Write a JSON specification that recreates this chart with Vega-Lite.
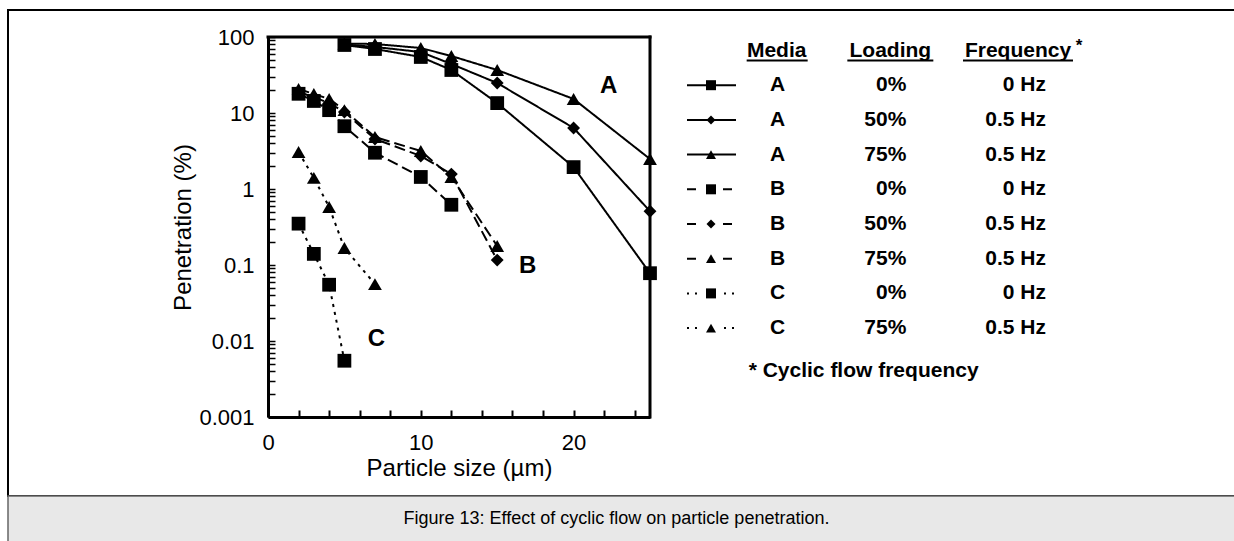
{
  "$schema": "https://vega.github.io/schema/vega-lite/v6.json",
  "padding": {"left": 7, "top": 9, "right": 0, "bottom": 0},
  "background": "white",
  "spacing": 0,
  "bounds": "flush",
  "config": {
    "font": "Liberation Sans",
    "view": {"stroke": null},
    "text": {"color": "black"},
    "axis": {"grid": false}
  },
  "datasets": {
    "pts": [
      {"series": "A-75", "media": "A", "loading": "75%", "particle": 5, "penetration": 82},
      {"series": "A-75", "media": "A", "loading": "75%", "particle": 7, "penetration": 80.9},
      {"series": "A-75", "media": "A", "loading": "75%", "particle": 10, "penetration": 71.7},
      {"series": "A-75", "media": "A", "loading": "75%", "particle": 12, "penetration": 56.2},
      {"series": "A-75", "media": "A", "loading": "75%", "particle": 15, "penetration": 36.8},
      {"series": "A-75", "media": "A", "loading": "75%", "particle": 20, "penetration": 15.3},
      {"series": "A-75", "media": "A", "loading": "75%", "particle": 25, "penetration": 2.48},
      {"series": "A-50", "media": "A", "loading": "50%", "particle": 5, "penetration": 80},
      {"series": "A-50", "media": "A", "loading": "50%", "particle": 7, "penetration": 73.9},
      {"series": "A-50", "media": "A", "loading": "50%", "particle": 10, "penetration": 63.5},
      {"series": "A-50", "media": "A", "loading": "50%", "particle": 12, "penetration": 44.1},
      {"series": "A-50", "media": "A", "loading": "50%", "particle": 15, "penetration": 24.8},
      {"series": "A-50", "media": "A", "loading": "50%", "particle": 20, "penetration": 6.35},
      {"series": "A-50", "media": "A", "loading": "50%", "particle": 25, "penetration": 0.51},
      {"series": "A-0", "media": "A", "loading": "0%", "particle": 5, "penetration": 78.5},
      {"series": "A-0", "media": "A", "loading": "0%", "particle": 7, "penetration": 69.5},
      {"series": "A-0", "media": "A", "loading": "0%", "particle": 10, "penetration": 54.6},
      {"series": "A-0", "media": "A", "loading": "0%", "particle": 12, "penetration": 36.8},
      {"series": "A-0", "media": "A", "loading": "0%", "particle": 15, "penetration": 13.5},
      {"series": "A-0", "media": "A", "loading": "0%", "particle": 20, "penetration": 1.94},
      {"series": "A-0", "media": "A", "loading": "0%", "particle": 25, "penetration": 0.078},
      {"series": "B-75", "media": "B", "loading": "75%", "particle": 2, "penetration": 20.7},
      {"series": "B-75", "media": "B", "loading": "75%", "particle": 3, "penetration": 17.8},
      {"series": "B-75", "media": "B", "loading": "75%", "particle": 4, "penetration": 15.3},
      {"series": "B-75", "media": "B", "loading": "75%", "particle": 5, "penetration": 10.9},
      {"series": "B-75", "media": "B", "loading": "75%", "particle": 7, "penetration": 4.83},
      {"series": "B-75", "media": "B", "loading": "75%", "particle": 10, "penetration": 3.16},
      {"series": "B-75", "media": "B", "loading": "75%", "particle": 12, "penetration": 1.44},
      {"series": "B-75", "media": "B", "loading": "75%", "particle": 15, "penetration": 0.178},
      {"series": "B-50", "media": "B", "loading": "50%", "particle": 2, "penetration": 18.9},
      {"series": "B-50", "media": "B", "loading": "50%", "particle": 3, "penetration": 16.2},
      {"series": "B-50", "media": "B", "loading": "50%", "particle": 4, "penetration": 13.5},
      {"series": "B-50", "media": "B", "loading": "50%", "particle": 5, "penetration": 10.3},
      {"series": "B-50", "media": "B", "loading": "50%", "particle": 7, "penetration": 4.55},
      {"series": "B-50", "media": "B", "loading": "50%", "particle": 10, "penetration": 2.72},
      {"series": "B-50", "media": "B", "loading": "50%", "particle": 12, "penetration": 1.57},
      {"series": "B-50", "media": "B", "loading": "50%", "particle": 15, "penetration": 0.116},
      {"series": "B-0", "media": "B", "loading": "0%", "particle": 2, "penetration": 17.9},
      {"series": "B-0", "media": "B", "loading": "0%", "particle": 3, "penetration": 14.4},
      {"series": "B-0", "media": "B", "loading": "0%", "particle": 4, "penetration": 10.9},
      {"series": "B-0", "media": "B", "loading": "0%", "particle": 5, "penetration": 6.7},
      {"series": "B-0", "media": "B", "loading": "0%", "particle": 7, "penetration": 3.0},
      {"series": "B-0", "media": "B", "loading": "0%", "particle": 10, "penetration": 1.44},
      {"series": "B-0", "media": "B", "loading": "0%", "particle": 12, "penetration": 0.62},
      {"series": "C-0", "media": "C", "loading": "0%", "particle": 2, "penetration": 0.35},
      {"series": "C-0", "media": "C", "loading": "0%", "particle": 3, "penetration": 0.14},
      {"series": "C-0", "media": "C", "loading": "0%", "particle": 4, "penetration": 0.055},
      {"series": "C-0", "media": "C", "loading": "0%", "particle": 5, "penetration": 0.0055},
      {"series": "C-75", "media": "C", "loading": "75%", "particle": 2, "penetration": 3.07},
      {"series": "C-75", "media": "C", "loading": "75%", "particle": 3, "penetration": 1.4},
      {"series": "C-75", "media": "C", "loading": "75%", "particle": 4, "penetration": 0.58},
      {"series": "C-75", "media": "C", "loading": "75%", "particle": 5, "penetration": 0.167},
      {"series": "C-75", "media": "C", "loading": "75%", "particle": 7, "penetration": 0.056}
    ],
    "letters": [
      {"label": "A", "particle": 22.3, "penetration": 22.7},
      {"label": "B", "particle": 17, "penetration": 0.097},
      {"label": "C", "particle": 7.1, "penetration": 0.0107}
    ],
    "legendRows": [
      {"series": "A-0", "media": "A", "loading": "0%", "freq": "0 Hz"},
      {"series": "A-50", "media": "A", "loading": "50%", "freq": "0.5 Hz"},
      {"series": "A-75", "media": "A", "loading": "75%", "freq": "0.5 Hz"},
      {"series": "B-0", "media": "B", "loading": "0%", "freq": "0 Hz"},
      {"series": "B-50", "media": "B", "loading": "50%", "freq": "0.5 Hz"},
      {"series": "B-75", "media": "B", "loading": "75%", "freq": "0.5 Hz"},
      {"series": "C-0", "media": "C", "loading": "0%", "freq": "0 Hz"},
      {"series": "C-75", "media": "C", "loading": "75%", "freq": "0.5 Hz"}
    ],
    "caption": [
      {"caption": "Figure 13: Effect of cyclic flow on particle penetration."}
    ]
  },
  "vconcat": [
    {
      "width": 1227,
      "height": 486,
      "view": {"stroke": "black", "strokeWidth": 2},
      "resolve": {"scale": {"x": "independent", "y": "independent", "strokeDash": "independent", "shape": "independent", "size": "independent"}},
      "layer": [
        {
          "layer": [
            {
              "data": {"name": "pts"},
              "mark": {"type": "line", "color": "black", "strokeWidth": 2},
              "encoding": {
                "x": {
                  "field": "particle", "type": "quantitative",
                  "scale": {"domain": [0, 25], "range": [260, 642], "nice": false, "zero": false},
                  "axis": {
                    "orient": "bottom", "offset": -79,
                    "values": [0, 2, 4, 6, 8, 10, 12, 14, 16, 18, 20, 22, 24],
                    "labelExpr": "datum.value % 10 == 0 ? format(datum.value, 'd') : ''",
                    "labelOverlap": false, "labelFlush": false, "labelBound": false,
                    "tickSize": -7, "tickWidth": 2, "tickColor": "black",
                    "domainWidth": 3, "domainColor": "black",
                    "labelFontSize": 22, "labelColor": "black", "labelPadding": 22,
                    "title": "Particle size (µm)", "titleFontSize": 24, "titleFontWeight": "normal",
                    "titleColor": "black", "titlePadding": 3
                  }
                },
                "y": {
                  "field": "penetration", "type": "quantitative",
                  "scale": {"type": "log", "domain": [0.001, 100], "range": [407, 27], "nice": false},
                  "axis": {
                    "orient": "left", "offset": -260,
                    "values": [0.001, 0.002, 0.003, 0.004, 0.005, 0.006, 0.007, 0.008, 0.009, 0.01, 0.02, 0.03, 0.04, 0.05, 0.06, 0.07, 0.08, 0.09, 0.1, 0.2, 0.3, 0.4, 0.5, 0.6, 0.7, 0.8, 0.9, 1, 2, 3, 4, 5, 6, 7, 8, 9, 10, 20, 30, 40, 50, 60, 70, 80, 90, 100],
                    "labelExpr": "indexof([0.001, 0.01, 0.1, 1, 10, 100], datum.value) >= 0 ? format(datum.value, '~g') : ''",
                    "labelOverlap": false, "labelFlush": false, "labelBound": false,
                    "tickSize": -7, "tickWidth": 1.5, "tickColor": "black",
                    "domainWidth": 3, "domainColor": "black",
                    "labelFontSize": 22, "labelColor": "black", "labelPadding": 21,
                    "title": "Penetration (%)", "titleFontSize": 24, "titleFontWeight": "normal",
                    "titleColor": "black", "titlePadding": 3
                  }
                },
                "detail": {"field": "series"},
                "strokeDash": {
                  "field": "media", "type": "nominal",
                  "scale": {"domain": ["A", "B", "C"], "range": [[1, 0], [11, 5], [3, 5]]},
                  "legend": null
                }
              }
            },
            {
              "data": {"name": "pts"},
              "mark": {"type": "point", "filled": true, "color": "black", "opacity": 1},
              "encoding": {
                "x": {"field": "particle", "type": "quantitative"},
                "y": {"field": "penetration", "type": "quantitative"},
                "shape": {
                  "field": "loading", "type": "nominal",
                  "scale": {"domain": ["0%", "50%", "75%"], "range": ["square", "diamond", "triangle-up"]},
                  "legend": null
                },
                "size": {
                  "field": "loading", "type": "nominal",
                  "scale": {"type": "ordinal", "domain": ["0%", "50%", "75%"], "range": [190, 165, 190]},
                  "legend": null
                }
              }
            },
            {
              "data": {"name": "letters"},
              "mark": {"type": "text", "fontSize": 24, "fontWeight": "bold", "align": "center", "baseline": "middle"},
              "encoding": {
                "x": {"field": "particle", "type": "quantitative"},
                "y": {"field": "penetration", "type": "quantitative"},
                "text": {"field": "label"}
              }
            },
            {
              "data": {"values": [{}]},
              "mark": {"type": "rule", "color": "black", "strokeWidth": 3, "strokeCap": "square"},
              "encoding": {
                "x": {"datum": 0, "type": "quantitative"},
                "x2": {"datum": 25},
                "y": {"datum": 100, "type": "quantitative"}
              }
            },
            {
              "data": {"values": [{}]},
              "mark": {"type": "rule", "color": "black", "strokeWidth": 3, "strokeCap": "square"},
              "encoding": {
                "x": {"datum": 25, "type": "quantitative"},
                "y": {"datum": 0.001, "type": "quantitative"},
                "y2": {"datum": 100}
              }
            }
          ]
        },
        {
          "layer": [
            {
              "data": {"name": "legendRows"},
              "mark": {"type": "rule", "color": "black", "strokeWidth": 2, "xOffset": -24, "x2Offset": 25},
              "encoding": {
                "x": {
                  "datum": "sample", "type": "nominal",
                  "scale": {"type": "point", "domain": ["sample", "media", "loading", "freq"], "range": [703, 1038], "padding": 0},
                  "axis": null
                },
                "x2": {"datum": "sample"},
                "y": {
                  "field": "series", "type": "nominal",
                  "scale": {"type": "point", "domain": ["hdr", "A-0", "A-50", "A-75", "B-0", "B-50", "B-75", "C-0", "C-75", "note"], "range": [40.5, 352.8], "padding": 0},
                  "axis": null
                },
                "strokeDash": {
                  "field": "media", "type": "nominal",
                  "scale": {"domain": ["A", "B", "C"], "range": [[1, 0], [9, 27], [2, 6, 2, 27]]},
                  "legend": null
                }
              }
            },
            {
              "data": {"name": "legendRows"},
              "mark": {"type": "point", "filled": true, "color": "black", "opacity": 1},
              "encoding": {
                "x": {"datum": "sample", "type": "nominal", "axis": null},
                "y": {"field": "series", "type": "nominal", "axis": null},
                "shape": {
                  "field": "loading", "type": "nominal",
                  "scale": {"domain": ["0%", "50%", "75%"], "range": ["square", "diamond", "triangle-up"]},
                  "legend": null
                },
                "size": {
                  "field": "loading", "type": "nominal",
                  "scale": {"type": "ordinal", "domain": ["0%", "50%", "75%"], "range": [100, 81, 100]},
                  "legend": null
                }
              }
            },
            {
              "data": {"name": "legendRows"},
              "mark": {"type": "text", "fontSize": 21, "fontWeight": "bold", "align": "center", "baseline": "middle", "dx": -45},
              "encoding": {
                "x": {"datum": "media", "type": "nominal", "axis": null},
                "y": {"field": "series", "type": "nominal", "axis": null},
                "text": {"field": "media"}
              }
            },
            {
              "data": {"name": "legendRows"},
              "mark": {"type": "text", "fontSize": 21, "fontWeight": "bold", "align": "right", "baseline": "middle", "dx": -28},
              "encoding": {
                "x": {"datum": "loading", "type": "nominal", "axis": null},
                "y": {"field": "series", "type": "nominal", "axis": null},
                "text": {"field": "loading"}
              }
            },
            {
              "data": {"name": "legendRows"},
              "mark": {"type": "text", "fontSize": 21, "fontWeight": "bold", "align": "right", "baseline": "middle", "dx": 0},
              "encoding": {
                "x": {"datum": "freq", "type": "nominal", "axis": null},
                "y": {"field": "series", "type": "nominal", "axis": null},
                "text": {"field": "freq"}
              }
            },
            {
              "data": {"values": [{}]},
              "mark": {"type": "text", "fontSize": 21, "fontWeight": "bold", "align": "center", "baseline": "middle", "dx": -46},
              "encoding": {
                "x": {"datum": "media", "type": "nominal", "axis": null},
                "y": {"datum": "hdr", "type": "nominal", "axis": null},
                "text": {"value": "Media"}
              }
            },
            {
              "data": {"values": [{}]},
              "mark": {"type": "text", "fontSize": 21, "fontWeight": "bold", "align": "center", "baseline": "middle", "dx": -44},
              "encoding": {
                "x": {"datum": "loading", "type": "nominal", "axis": null},
                "y": {"datum": "hdr", "type": "nominal", "axis": null},
                "text": {"value": "Loading"}
              }
            },
            {
              "data": {"values": [{}]},
              "mark": {"type": "text", "fontSize": 21, "fontWeight": "bold", "align": "center", "baseline": "middle", "dx": -28},
              "encoding": {
                "x": {"datum": "freq", "type": "nominal", "axis": null},
                "y": {"datum": "hdr", "type": "nominal", "axis": null},
                "text": {"value": "Frequency"}
              }
            },
            {
              "data": {"values": [{}]},
              "mark": {"type": "text", "fontSize": 17, "fontWeight": "bold", "align": "center", "baseline": "middle", "dx": 33, "dy": -5},
              "encoding": {
                "x": {"datum": "freq", "type": "nominal", "axis": null},
                "y": {"datum": "hdr", "type": "nominal", "axis": null},
                "text": {"value": "*"}
              }
            },
            {
              "data": {"values": [{}]},
              "mark": {"type": "rule", "color": "black", "strokeWidth": 2, "xOffset": -76, "x2Offset": -15, "yOffset": 10},
              "encoding": {
                "x": {"datum": "media", "type": "nominal", "axis": null},
                "x2": {"datum": "media"},
                "y": {"datum": "hdr", "type": "nominal", "axis": null}
              }
            },
            {
              "data": {"values": [{}]},
              "mark": {"type": "rule", "color": "black", "strokeWidth": 2, "xOffset": -87, "x2Offset": -1, "yOffset": 10},
              "encoding": {
                "x": {"datum": "loading", "type": "nominal", "axis": null},
                "x2": {"datum": "loading"},
                "y": {"datum": "hdr", "type": "nominal", "axis": null}
              }
            },
            {
              "data": {"values": [{}]},
              "mark": {"type": "rule", "color": "black", "strokeWidth": 2, "xOffset": -83, "x2Offset": 27, "yOffset": 10},
              "encoding": {
                "x": {"datum": "freq", "type": "nominal", "axis": null},
                "x2": {"datum": "freq"},
                "y": {"datum": "hdr", "type": "nominal", "axis": null}
              }
            },
            {
              "data": {"values": [{}]},
              "mark": {"type": "text", "fontSize": 21, "fontWeight": "bold", "align": "left", "baseline": "middle", "dx": -74, "dy": 8},
              "encoding": {
                "x": {"datum": "media", "type": "nominal", "axis": null},
                "y": {"datum": "note", "type": "nominal", "axis": null},
                "text": {"value": "* Cyclic flow frequency"}
              }
            }
          ]
        }
      ]
    },
    {
      "width": 1227,
      "height": 46,
      "view": {"fill": "#e8e8e8", "stroke": "#666666", "strokeWidth": 1.5},
      "data": {"name": "caption"},
      "mark": {"type": "text", "fontSize": 18, "baseline": "middle", "align": "center", "dx": -5},
      "encoding": {
        "text": {"field": "caption"}
      }
    }
  ]
}
